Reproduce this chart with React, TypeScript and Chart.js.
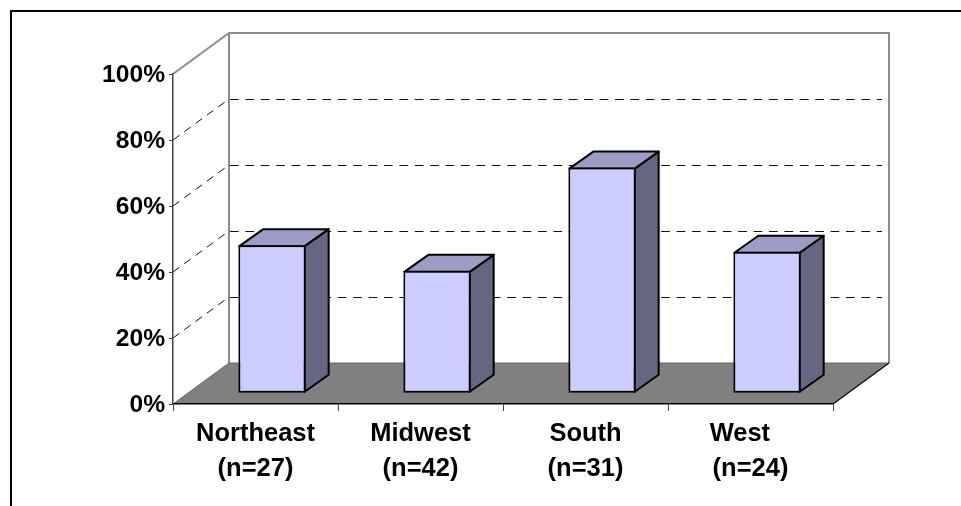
import React, { useEffect, useRef } from "react";
import { Chart, registerables } from "chart.js";

Chart.register(...registerables);

const regionNames = ["Northeast", "Midwest", "South", "West   "];
const sampleSizes = ["(n=27)", "(n=42)", "(n=31)", "(n=24)"];
const shares = [44.9, 37.1, 68.4, 42.9];
const axisTicks = [0, 20, 40, 60, 80, 100];

// Oblique projection: how far the box recedes, and where the columns sit inside it.
const WALL_DX = 56;
const WALL_DY = -41;
const BAR_OFFSET_X = 16.5;
const BAR_OFFSET_Y = -10.7;
const BAR_DEPTH_X = 24;
const BAR_DEPTH_Y = -17;

const FLOOR = "#808080";
const WALL_LINE = "#8c8c8c";
const FACE = "#ccccff";
const TOP = "#9c9cc4";
const SIDE = "#666682";
const FONT_FAMILY = "'Liberation Sans', Arial, sans-serif";

function polygon(ctx: CanvasRenderingContext2D, pts: number[][], fill?: string) {
  ctx.beginPath();
  pts.forEach(([x, y], i) => (i ? ctx.lineTo(x, y) : ctx.moveTo(x, y)));
  ctx.closePath();
  if (fill) {
    ctx.fillStyle = fill;
    ctx.fill();
  }
}

function segment(ctx: CanvasRenderingContext2D, x1: number, y1: number, x2: number, y2: number) {
  ctx.beginPath();
  ctx.moveTo(x1, y1);
  ctx.lineTo(x2, y2);
  ctx.stroke();
}

// Back wall, side wall guides and floor, painted underneath the axes.
const boxPlugin = {
  id: "box",
  beforeDraw(chart: any) {
    const { ctx } = chart;
    const { x, y } = chart.scales;
    const left = x.left;
    const right = x.right;
    const bottom = y.getPixelForValue(0);
    const top = y.getPixelForValue(100);
    ctx.save();

    polygon(
      ctx,
      [
        [left, bottom],
        [right, bottom],
        [right + WALL_DX, bottom + WALL_DY],
        [left + WALL_DX, bottom + WALL_DY],
      ],
      FLOOR
    );

    ctx.strokeStyle = "#111111";
    ctx.lineWidth = 1;
    ctx.setLineDash([8.7, 6.7]);
    axisTicks
      .filter((v) => v > 0 && v < 100)
      .forEach((v) => {
        const py = Math.round(y.getPixelForValue(v) + WALL_DY) + 0.5;
        segment(ctx, left + WALL_DX + 1, py, right + WALL_DX - 7, py);
      });
    ctx.setLineDash([8, 6]);
    axisTicks
      .filter((v) => v > 0 && v < 100)
      .forEach((v) => {
        const py = y.getPixelForValue(v);
        segment(ctx, left, py, left + WALL_DX, py + WALL_DY);
      });
    ctx.setLineDash([]);

    ctx.strokeStyle = WALL_LINE;
    ctx.lineWidth = 2;
    ctx.beginPath();
    ctx.moveTo(left, top);
    ctx.lineTo(left + WALL_DX, top + WALL_DY);
    ctx.lineTo(right + WALL_DX, top + WALL_DY);
    ctx.lineTo(right + WALL_DX, bottom + WALL_DY);
    ctx.stroke();
    segment(ctx, left + WALL_DX, top + WALL_DY, left + WALL_DX, bottom + WALL_DY);

    ctx.strokeStyle = "#666666";
    ctx.lineWidth = 1;
    segment(ctx, left + WALL_DX, bottom + WALL_DY, right + WALL_DX, bottom + WALL_DY);
    segment(ctx, left, bottom, left + WALL_DX, bottom + WALL_DY);
    ctx.strokeStyle = "#111111";
    ctx.lineWidth = 1.5;
    segment(ctx, right, bottom, right + WALL_DX, bottom + WALL_DY);

    ctx.restore();
  },
};

// Adds the top and side faces of each column and moves the library's front face back into the box.
const columnPlugin = {
  id: "columns",
  beforeDatasetDraw(chart: any, args: any) {
    const { ctx } = chart;
    ctx.save();
    ctx.translate(BAR_OFFSET_X, BAR_OFFSET_Y);
    ctx.lineWidth = 2;
    ctx.strokeStyle = "#000000";
    ctx.lineJoin = "round";
    args.meta.data.forEach((bar: any) => {
      const { x, y, base, width } = bar.getProps(["x", "y", "base", "width"], true);
      const l = x - width / 2 + 1;
      const r = x + width / 2 - 1;
      const t = y + 1;
      const b = base - 1;
      polygon(
        ctx,
        [
          [r, t],
          [r + BAR_DEPTH_X, t + BAR_DEPTH_Y],
          [r + BAR_DEPTH_X, b + BAR_DEPTH_Y],
          [r, b],
        ],
        SIDE
      );
      ctx.stroke();
      polygon(
        ctx,
        [
          [l, t],
          [l + BAR_DEPTH_X, t + BAR_DEPTH_Y],
          [r + BAR_DEPTH_X, t + BAR_DEPTH_Y],
          [r, t],
        ],
        TOP
      );
      ctx.stroke();
    });
  },
  afterDatasetDraw(chart: any) {
    chart.ctx.restore();
  },
};

export default function App() {
  const canvasRef = useRef<HTMLCanvasElement>(null);

  useEffect(() => {
    const chart = new Chart(canvasRef.current as HTMLCanvasElement, {
      type: "bar",
      data: {
        labels: regionNames.map((name, i) => [name, sampleSizes[i]]),
        datasets: [
          {
            data: shares,
            backgroundColor: FACE,
            borderColor: "#000000",
            borderWidth: 2,
            borderSkipped: false,
            categoryPercentage: 1,
            barPercentage: 0.408,
            clip: false,
          },
        ],
      },
      options: {
        animation: false,
        responsive: false,
        layout: { padding: { top: 74, right: 128, left: 0, bottom: 0 } },
        plugins: { legend: { display: false }, tooltip: { enabled: false } },
        scales: {
          x: {
            afterFit: (s: any) => {
              s.height = 102;
            },
            grid: {
              drawOnChartArea: false,
              color: "#444444",
              tickLength: 7,
              tickWidth: 1,
            },
            border: { color: "#000000", width: 1.5 },
            ticks: {
              color: "#000000",
              maxRotation: 0,
              autoSkip: false,
              padding: 6,
              font: { family: FONT_FAMILY, size: 25.5, weight: "bold", lineHeight: 1.35 },
            },
          },
          y: {
            min: 0,
            max: 100,
            afterFit: (s: any) => {
              s.width = 173;
            },
            afterBuildTicks: (s: any) => {
              s.ticks = axisTicks.map((value) => ({ value }));
            },
            grid: {
              drawOnChartArea: false,
              color: "#444444",
              tickLength: 4,
              tickWidth: 1,
            },
            border: { color: "#444444", width: 1.5 },
            ticks: {
              color: "#000000",
              padding: 4,
              labelOffset: 1.5,
              callback: (v: any) => `${v}%`,
              font: { family: FONT_FAMILY, size: 24.6, weight: "bold" },
            },
          },
        },
      },
      plugins: [boxPlugin, columnPlugin],
    } as any);
    return () => chart.destroy();
  }, []);

  return (
    <div style={{ position: "absolute", left: 0, top: 0, width: 961, height: 506, overflow: "hidden", background: "#fff" }}>
      <canvas ref={canvasRef} width={961} height={506} style={{ display: "block" }} />
      <div
        style={{
          position: "absolute",
          left: 10,
          top: 10,
          right: 0,
          bottom: 0,
          borderLeft: "2px solid #000",
          borderTop: "2px solid #000",
        }}
      />
    </div>
  );
}
